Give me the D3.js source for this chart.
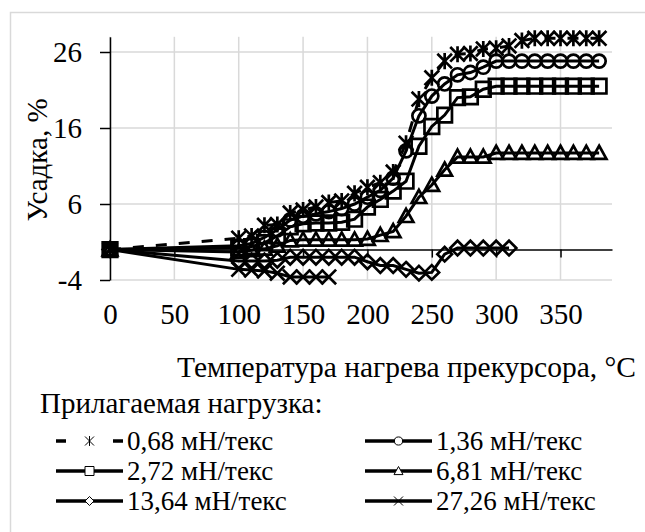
<!DOCTYPE html>
<html>
<head>
<meta charset="utf-8">
<script src="https://cdn.jsdelivr.net/npm/d3@7"></script>
<style>
  body { margin: 0; background: #fff; }
</style>
</head>
<body>
<svg id="drawing_region"></svg>
<script>
// температура, °C
const temps = [0, 100, 110, 120, 130, 140, 150, 160, 170, 180, 190, 200, 210, 220, 230, 240, 250, 260, 270, 280, 290, 300, 310, 320, 330, 340, 350, 360, 370, 380];
const temps1364 = [0, 100, 110, 120, 130, 140, 150, 160, 170, 180, 190, 200, 210, 220, 230, 240, 250, 260, 270, 280, 290, 300, 310];
const temps2726 = [0, 100, 110, 120, 130, 140, 150, 160, 170];

// усадка, %
const shrink068 = [0, 1.5, 1.8, 3.2, 3.3, 4.8, 5.2, 5.6, 6.2, 6.4, 7.4, 8.2, 8.8, 10.2, 14.0, 19.8, 22.6, 24.8, 25.7, 25.8, 26.4, 26.5, 26.8, 27.5, 27.8, 27.8, 27.8, 27.8, 27.8, 27.8];
const shrink136 = [0, 0.5, 0.8, 1.6, 2.6, 3.9, 4.4, 4.7, 5.0, 5.4, 6.0, 6.9, 7.8, 9.4, 13.0, 17.6, 20.2, 21.8, 23.0, 23.3, 24.0, 24.8, 24.8, 24.8, 24.8, 24.8, 24.8, 24.8, 24.8, 24.8];
const shrink272 = [0, 0.2, 0.4, 0.9, 1.8, 3.0, 3.4, 3.5, 3.5, 3.6, 4.0, 5.6, 6.6, 7.7, 9.0, 13.6, 16.2, 17.7, 20.0, 20.1, 21.1, 21.5, 21.5, 21.5, 21.5, 21.5, 21.5, 21.5, 21.5, 21.5];
const shrink681 = [0, -0.3, -0.1, 0.1, 0.5, 1.2, 1.3, 1.3, 1.3, 1.3, 1.3, 1.4, 1.9, 2.4, 4.4, 6.9, 8.5, 10.5, 12.2, 12.2, 12.2, 12.7, 12.7, 12.7, 12.7, 12.7, 12.7, 12.7, 12.7, 12.7];
const shrink1364 = [0, -1.5, -1.5, -1.5, -1.4, -1.0, -1.0, -1.0, -1.0, -1.0, -1.0, -1.6, -2.1, -2.1, -2.6, -3.1, -3.0, -0.6, 0.2, 0.2, 0.2, 0.2, 0.2];
const shrink2726 = [0, -2.6, -2.7, -2.8, -3.1, -3.6, -3.6, -3.6, -3.6];

const loadLabels = ['0,68 мН/текс', '1,36 мН/текс', '2,72 мН/текс', '6,81 мН/текс', '13,64 мН/текс', '27,26 мН/текс'];
const markerTypes = ['star', 'circle', 'square', 'triangle', 'diamond', 'cross'];

const xTicks = [0, 50, 100, 150, 200, 250, 300, 350];
const yTicks = [-4, 6, 16, 26];

const seriesData = [
    { label: loadLabels[0], marker: markerTypes[0], dashed: true, x: temps, y: shrink068 },
    { label: loadLabels[1], marker: markerTypes[1], dashed: false, x: temps, y: shrink136 },
    { label: loadLabels[2], marker: markerTypes[2], dashed: false, x: temps, y: shrink272 },
    { label: loadLabels[3], marker: markerTypes[3], dashed: false, x: temps, y: shrink681 },
    { label: loadLabels[4], marker: markerTypes[4], dashed: false, x: temps1364, y: shrink1364 },
    { label: loadLabels[5], marker: markerTypes[5], dashed: false, x: temps2726, y: shrink2726 }
];

const FONT = '"Liberation Serif", "Times New Roman", serif';

function markerPath(type, h) {
    const p = d3.path();
    if (type === 'star' || type === 'cross') {
        p.moveTo(-h, -h); p.lineTo(h, h);
        p.moveTo(-h, h); p.lineTo(h, -h);
        if (type === 'star') { p.moveTo(0, -h * 1.1); p.lineTo(0, h * 1.1); }
    } else if (type === 'circle') {
        p.moveTo(h * 0.9, 0); p.arc(0, 0, h * 0.9, 0, 2 * Math.PI);
    } else if (type === 'square') {
        p.rect(-h, -h, 2 * h, 2 * h);
    } else if (type === 'triangle') {
        p.moveTo(0, -h); p.lineTo(h, h * 0.8); p.lineTo(-h, h * 0.8); p.closePath();
    } else if (type === 'diamond') {
        p.moveTo(0, -h); p.lineTo(h, 0); p.lineTo(0, h); p.lineTo(-h, 0); p.closePath();
    }
    return p.toString();
}

class ShrinkChart {

    constructor( config, data ) {
        this.config = config;
        this.data = data;
        this.init();
    }

    init() {
        let self = this;

        self.svg = d3.select( self.config.parent )
            .attr('width', self.config.width)
            .attr('height', self.config.height)
            .attr('font-family', FONT);

        // рамка области диаграммы
        self.svg.append('rect')
            .attr('x', 10.5).attr('y', 12.5)
            .attr('width', 660).attr('height', 560)
            .attr('fill', 'none')
            .attr('stroke', '#d9d9d9')
            .attr('stroke-width', 1.5);

        self.xscale = d3.scaleLinear()
            .domain([0, 390])
            .range([110, 612]);

        self.yscale = d3.scaleLinear()
            .domain([-4, 28])
            .range([280, 36.8]);

        self.grid = self.svg.append('g');
        self.axes = self.svg.append('g');
        self.plot = self.svg.append('g');
        self.legend = self.svg.append('g');
    }

    update() {
        let self = this;
        self.render();
    }

    render() {
        let self = this;
        const xs = self.xscale, ys = self.yscale;

        // сетка
        self.grid.selectAll('.vgrid')
            .data(xTicks)
            .enter().append('line')
            .attr('x1', d => xs(d)).attr('x2', d => xs(d))
            .attr('y1', ys(28)).attr('y2', ys(-4))
            .attr('stroke', '#d9d9d9').attr('stroke-width', 1.5);
        self.grid.selectAll('.hgrid')
            .data(yTicks)
            .enter().append('line')
            .attr('x1', xs(0)).attr('x2', xs(390))
            .attr('y1', d => ys(d)).attr('y2', d => ys(d))
            .attr('stroke', '#d9d9d9').attr('stroke-width', 1.5);

        // оси
        const yaxis = d3.axisLeft(ys)
            .tickValues(yTicks)
            .tickSize(10)
            .tickSizeOuter(0)
            .tickPadding(18)
            .tickFormat(d => String(d));
        const yg = self.axes.append('g')
            .attr('transform', `translate(${xs(0)},0)`)
            .call(yaxis);

        const xaxis = d3.axisBottom(xs)
            .tickValues(xTicks)
            .tickSize(8)
            .tickSizeOuter(0)
            .tickFormat('');
        const xg = self.axes.append('g')
            .attr('transform', `translate(0,${ys(0)})`)
            .call(xaxis);

        // подписи оси X внизу области построения
        const xlab = d3.axisBottom(xs)
            .tickValues(xTicks)
            .tickSize(0)
            .tickPadding(23)
            .tickFormat(d => String(d));
        const xlg = self.axes.append('g')
            .attr('transform', `translate(0,${ys(-4)})`)
            .call(xlab);
        xlg.select('.domain').remove();

        [yg, xg, xlg].forEach(g => {
            g.attr('font-family', FONT).attr('font-size', 29);
            g.select('.domain').attr('stroke', '#000').attr('stroke-width', 1.5);
            g.selectAll('.tick line').attr('stroke', '#000').attr('stroke-width', 1.5);
            g.selectAll('.tick text').attr('fill', '#000');
        });

        // подписи осей
        self.svg.append('text')
            .attr('transform', 'translate(47,160) rotate(-90)')
            .attr('text-anchor', 'middle')
            .attr('font-size', 29)
            .text('Усадка, %');

        self.svg.append('text')
            .attr('x', 636).attr('y', 377)
            .attr('text-anchor', 'end')
            .attr('font-size', 29.5)
            .text('Температура нагрева прекурсора, °C');

        // серии
        const line = d3.line().x(d => xs(d[0])).y(d => ys(d[1]));

        self.data.forEach(s => {
            const pts = s.x.map((t, i) => [t, s.y[i]]);
            self.plot.append('path')
                .datum(pts)
                .attr('d', line)
                .attr('fill', 'none')
                .attr('stroke', '#000')
                .attr('stroke-width', 3)
                .attr('stroke-dasharray', s.dashed ? '11,12' : null);

            self.plot.selectAll(null)
                .data(pts)
                .enter().append('path')
                .attr('transform', d => `translate(${xs(d[0])},${ys(d[1])})`)
                .attr('d', markerPath(s.marker, 7.3))
                .attr('fill', 'none')
                .attr('stroke', '#000')
                .attr('stroke-width', 2.7);
        });

        // легенда
        self.legend.append('text')
            .attr('x', 40).attr('y', 413)
            .attr('font-size', 29)
            .text('Прилагаемая нагрузка:');

        const colX = [56, 365];
        const rowY = [450, 480, 510];
        self.data.forEach((s, i) => {
            const lx = colX[i % 2];
            const ly = rowY[Math.floor(i / 2)] - 9;
            const g = self.legend.append('g');
            g.append('line')
                .attr('x1', lx).attr('x2', lx + 67)
                .attr('y1', ly).attr('y2', ly)
                .attr('stroke', '#000')
                .attr('stroke-width', 3.5)
                .attr('stroke-dasharray', s.dashed ? '10,47' : null);
            g.append('path')
                .attr('transform', `translate(${lx + 33.5},${ly})`)
                .attr('d', markerPath(s.marker, 4.5))
                .attr('fill', s.dashed ? 'none' : '#fff')
                .attr('stroke', '#000')
                .attr('stroke-width', 1);
            g.append('text')
                .attr('x', lx + 71).attr('y', rowY[Math.floor(i / 2)])
                .attr('font-size', 27)
                .text(s.label);
        });
    }
}

const config = {
    parent: '#drawing_region',
    width: 645,
    height: 532
};

const chart = new ShrinkChart( config, seriesData );
chart.update();
</script>
</body>
</html>
